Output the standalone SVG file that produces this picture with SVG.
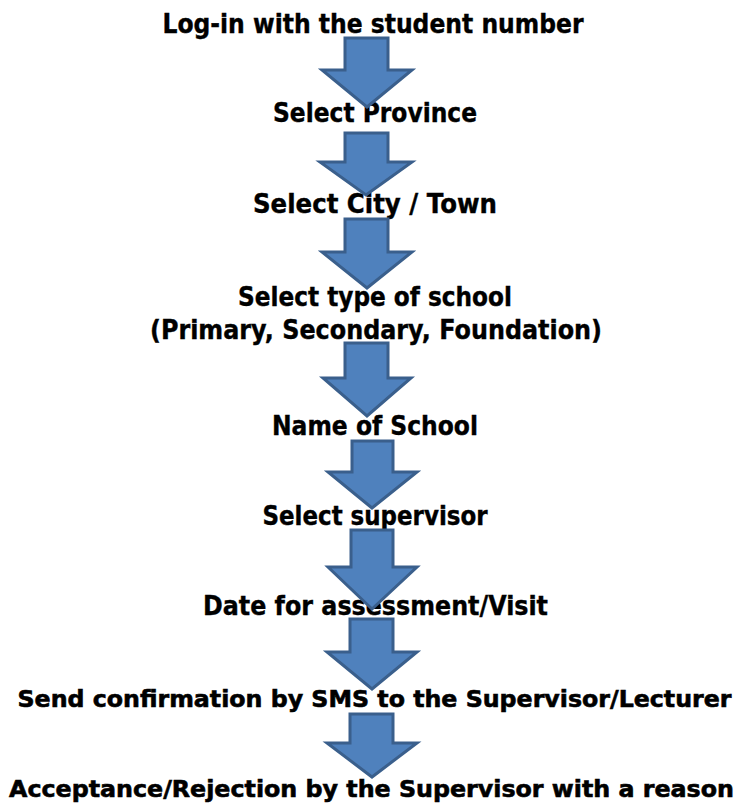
<svg xmlns="http://www.w3.org/2000/svg" width="740" height="803" viewBox="0 0 740 803">
<style>
.t{font-family:"DejaVu Sans","Liberation Sans",sans-serif;font-weight:bold;font-size:26px;fill:#000;stroke:#000;stroke-width:0.4;text-anchor:middle}
.s{font-size:23px;stroke-width:0.6}
.a{fill:#4F81BD;stroke:#3A5F8C;stroke-width:3;stroke-linejoin:miter}
</style>
<rect width="740" height="803" fill="#fff"/>
<g id="step1"><text class="t" x="373" y="33" textLength="421" lengthAdjust="spacingAndGlyphs">Log-in with the student number</text></g>
<g id="step2"><text class="t" x="375" y="122" textLength="204" lengthAdjust="spacingAndGlyphs">Select Province</text></g>
<g id="step3"><text class="t" x="375" y="213" textLength="244" lengthAdjust="spacingAndGlyphs">Select City / Town</text></g>
<g id="step4"><text class="t" x="375" y="306" textLength="274" lengthAdjust="spacingAndGlyphs">Select type of school</text><text class="t" x="376" y="339" textLength="452" lengthAdjust="spacingAndGlyphs">(Primary, Secondary, Foundation)</text></g>
<g id="step5"><text class="t" x="375" y="435" textLength="206" lengthAdjust="spacingAndGlyphs">Name of School</text></g>
<g id="step6"><text class="t" x="375" y="525" textLength="225" lengthAdjust="spacingAndGlyphs">Select supervisor</text></g>
<g id="step7"><text class="t" x="375.5" y="615" textLength="345" lengthAdjust="spacingAndGlyphs">Date for assessment/Visit</text></g>
<g id="step8"><text class="t s" x="374.5" y="707" textLength="714" lengthAdjust="spacingAndGlyphs">Send confirmation by SMS to the Supervisor/Lecturer</text></g>
<g id="step9"><text class="t s" x="371.5" y="797" textLength="725" lengthAdjust="spacingAndGlyphs">Acceptance/Rejection by the Supervisor with a reason</text></g>
<g id="connectors">
<polygon class="a" points="345,38 388,38 388,70 412,70 367,107 322,70 345,70"/>
<polygon class="a" points="345,133 388,133 388,162 412,162 366,195 320,162 345,162"/>
<polygon class="a" points="345,219 388,219 388,252 412,252 367,288 322,252 345,252"/>
<polygon class="a" points="345,343 388,343 388,378 411,378 367,416 323,378 345,378"/>
<polygon class="a" points="352,441 393,441 393,472 417,472 372,508 328,472 352,472"/>
<polygon class="a" points="351,530 393,530 393,567 417,567 372,609 328,567 351,567"/>
<polygon class="a" points="350,619 393,619 393,652 417,652 372,689 327,652 350,652"/>
<polygon class="a" points="350,714 393,714 393,743 417,743 372,777 327,743 350,743"/>
</g>
</svg>
